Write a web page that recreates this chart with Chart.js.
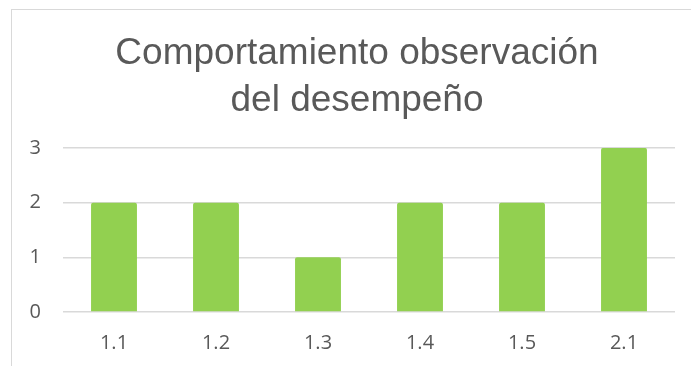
<!DOCTYPE html>
<html>
<head>
<meta charset="utf-8">
<script src="https://cdn.jsdelivr.net/npm/chart.js@4/dist/chart.umd.min.js"></script>
<style>
html,body{margin:0;padding:0;background:#fff;overflow:hidden;}
#frame{position:absolute;left:11px;top:9px;width:720px;height:400px;border:1px solid #d9d9d9;}
#wrap{position:absolute;left:0;top:0;width:691px;height:366px;}
</style>
</head>
<body>
<div id="frame"></div>
<div id="wrap"><canvas id="chart" width="691" height="366"></canvas></div>
<script>
// categorias y valores
const categorias = ["1.1","1.2","1.3","1.4","1.5","2.1"];
const valores = [2,2,1,2,2,3];
const titulo = ["Comportamiento observación","del desempeño"];

const gris = "#595959";

// el titulo se centra sobre el marco completo, no sobre el canvas
const centrarTitulo = {
id:"centrarTitulo",
afterLayout(chart){
if(chart.titleBlock) chart.titleBlock.left = 39;
}
};

new Chart(document.getElementById("chart"),{
type:"bar",
data:{
labels:categorias,
datasets:[{
data:valores,
backgroundColor:"#92d050",
borderRadius:2,
borderSkipped:"bottom",
categoryPercentage:1,
barPercentage:0.45
}]
},
options:{
responsive:false,
animation:false,
layout:{padding:{left:0,right:16,top:30,bottom:7}},
plugins:{
legend:{display:false},
tooltip:{enabled:false},
title:{
display:true,
text:titulo,
color:gris,
font:{family:"Liberation Sans",size:37,weight:"normal",lineHeight:1.27},
padding:{top:0,bottom:24}
}
},
scales:{
x:{
grid:{display:true,drawOnChartArea:false,color:"rgba(0,0,0,0)",tickLength:15},
border:{display:false},
ticks:{color:gris,font:{family:"Open Sans",size:20},padding:4}
},
y:{
min:0,max:3,
afterFit:s=>{s.width=63;},
grid:{color:"#d9d9d9",lineWidth:1.5,drawTicks:false},
border:{display:false},
ticks:{stepSize:1,color:gris,font:{family:"Open Sans",size:20},padding:22}
}
}
},
plugins:[centrarTitulo]
});
</script>
</body>
</html>
